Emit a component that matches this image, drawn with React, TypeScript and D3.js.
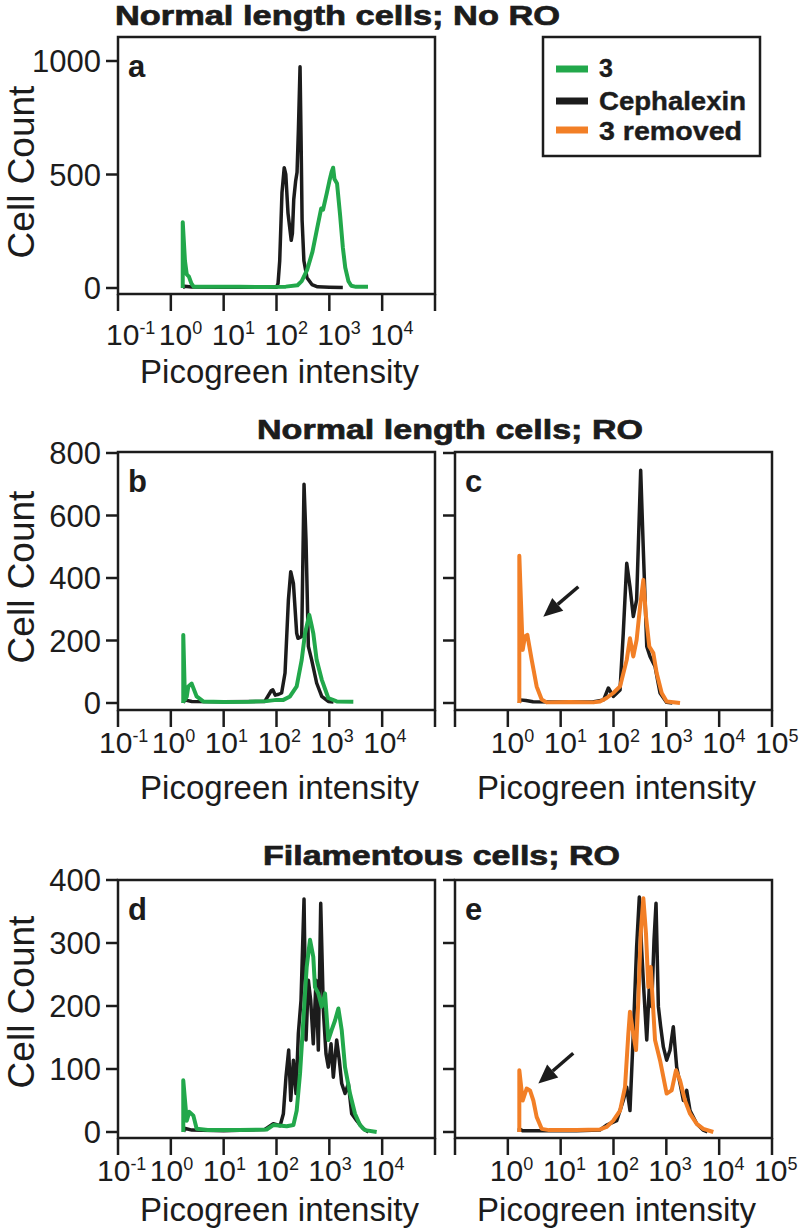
import React from 'react';
import * as d3 from 'd3';

const GREEN = '#22a84b';
const BLACK = '#1c1c1c';
const ORANGE = '#f27f26';
const FONT = '"Liberation Sans", Arial, Helvetica, sans-serif';

type Pt = [number, number]; // [Picogreen intensity, cell count]

// ---- Panel a: Normal length cells; No RO ----
const aCephalexin: Pt[] = [[1.68, 0], [1.8, 8], [2.5, 4], [10, 3], [60, 4], [100, 3], [107, 20], [115, 120], [127, 420], [140, 530], [150, 500], [165, 330], [190, 210], [200, 240], [212, 390], [230, 470], [245, 510], [260, 700], [279, 975], [292, 650], [305, 300], [330, 120], [378, 45], [468, 15], [600, 5], [1000, 3], [1800, 2]];
const aGreen: Pt[] = [[1.68, 0], [1.68, 290], [1.85, 120], [2.0, 60], [2.2, 50], [2.45, 20], [2.7, 6], [5, 5], [20, 6], [60, 4], [150, 6], [250, 12], [300, 30], [380, 80], [480, 160], [585, 260], [700, 350], [760, 345], [900, 420], [1000, 470], [1100, 510], [1180, 530], [1250, 480], [1400, 460], [1600, 320], [1800, 180], [2000, 90], [2300, 30], [2600, 10], [3200, 5], [5400, 5]];

// ---- Panel b: Normal length cells; RO ----
const bCephalexin: Pt[] = [[1.72, 0], [1.8, 10], [2.5, 5], [10, 4], [60, 5], [80, 40], [85, 42], [95, 25], [110, 28], [125, 32], [145, 96], [168, 330], [186, 420], [209, 383], [241, 223], [255, 207], [300, 213], [332, 700], [362, 521], [401, 181], [463, 138], [575, 64], [718, 21], [955, 5], [1200, 3]];
const bGreen: Pt[] = [[1.72, 0], [1.72, 218], [1.85, 10], [2.0, 20], [2.14, 53], [2.48, 62], [3.08, 21], [4.1, 5], [10, 3], [30, 4], [65, 6], [100, 10], [135, 10], [180, 21], [241, 53], [300, 138], [347, 223], [417, 282], [460, 250], [497, 223], [575, 138], [718, 75], [955, 16], [1380, 5], [2845, 4]];

// ---- Panel c: Normal length cells; RO (3 removed) ----
const cCephalexin: Pt[] = [[1.65, 0], [1.7, 10], [2.2, 8], [3, 4], [10, 3], [40, 3], [65, 10], [80, 48], [99, 21], [133, 42], [153, 223], [178, 447], [205, 372], [237, 277], [274, 330], [327, 745], [367, 489], [426, 181], [491, 149], [611, 117], [759, 32], [1014, 2], [1300, 0]];
const cRemoved: Pt[] = [[1.65, 0], [1.65, 471], [1.91, 170], [2.11, 213], [2.34, 218], [2.83, 138], [3.51, 53], [4.37, 11], [5.43, 2], [15, 3], [41.5, 2], [55.6, 5], [74, 16], [99, 32], [133, 53], [178, 138], [205, 207], [237, 149], [274, 202], [318, 308], [367, 394], [412, 277], [476, 181], [567, 160], [656, 96], [817, 32], [1014, 5], [1815, 0]];

// ---- Panel d: Filamentous cells; RO ----
const dCephalexin: Pt[] = [[1.75, 0], [1.8, 6], [2.5, 3], [10, 2], [60, 4], [87, 13], [117, 10], [135, 29], [151, 87], [170, 130], [186, 50], [209, 114], [234, 61], [259, 156], [291, 209], [332, 370], [362, 146], [401, 241], [444, 209], [497, 140], [560, 241], [619, 130], [687, 363], [771, 193], [865, 124], [957, 103], [1077, 140], [1191, 87], [1377, 146], [1545, 114], [1714, 77], [1982, 61], [2291, 77], [2649, 29], [3296, 18], [4403, 5], [5500, 0]];
const dGreen: Pt[] = [[1.72, 0], [1.72, 82], [2.0, 18], [2.24, 32], [2.67, 26], [3.08, 5], [5, 3], [20, 3], [65, 4], [87, 11], [156, 9], [209, 11], [241, 34], [279, 93], [322, 177], [373, 262], [431, 305], [497, 278], [535, 230], [619, 220], [718, 199], [829, 220], [957, 146], [1109, 162], [1282, 177], [1483, 196], [1714, 162], [1982, 103], [2461, 61], [3062, 29], [3811, 11], [4732, 3], [7870, 0]];

// ---- Panel e: Filamentous cells; RO (3 removed) ----
const eCephalexin: Pt[] = [[1.65, 0], [1.65, 5], [1.9, 2], [5, 2], [20, 2], [55, 3], [74, 11], [115, 18], [153, 50], [178, 71], [205, 34], [237, 156], [274, 294], [308, 373], [341, 289], [378, 220], [426, 146], [476, 230], [528, 199], [585, 305], [638, 363], [707, 199], [782, 167], [878, 135], [1014, 114], [1175, 130], [1356, 167], [1570, 103], [1815, 77], [2100, 50], [2432, 66], [2807, 34], [3757, 13], [5010, 3], [6000, 0]];
const eRemoved: Pt[] = [[1.65, 0], [1.65, 98], [1.91, 50], [2.27, 69], [2.63, 66], [3.04, 50], [3.51, 24], [4.37, 5], [6, 3], [20, 3], [55.6, 4], [74, 8], [99, 18], [133, 34], [165, 71], [191, 156], [205, 191], [237, 156], [267, 130], [295, 209], [327, 315], [367, 371], [412, 315], [456, 230], [506, 262], [552, 209], [611, 146], [759, 114], [1014, 61], [1262, 66], [1525, 98], [1815, 82], [2258, 50], [2807, 29], [3757, 13], [5010, 5], [7745, 0]];

// arrows (annotation) [from, to] in data units
const cArrow: [Pt, Pt] = [[21.6, 372], [4.69, 276]];
const eArrow: [Pt, Pt] = [[17.3, 125], [3.78, 77]];

// ticks
const xTickValues = [0.1, 1, 10, 100, 1000, 10000, 100000];
const leftExponents = ['-1', '0', '1', '2', '3', '4'];
const rightExponents = ['0', '1', '2', '3', '4', '5'];
const yTicksA = [0, 500, 1000];
const yTicksB = [0, 200, 400, 600, 800];
const yTicksD = [0, 100, 200, 300, 400];

// legend
const legendLabels = ['3', 'Cephalexin', '3 removed'];
const legendColors = [GREEN, BLACK, ORANGE];

const titles = ['Normal length cells; No RO', 'Normal length cells; RO', 'Filamentous cells; RO'];

interface Series { data: Pt[]; color: string; width: number }
interface PanelCfg {
  letter: string;
  left: number;
  top: number;
  bottom: number;
  y0: number;
  yTopPx: number;
  yMax: number;
  yTicks: number[];
  yLabels: boolean;
  exps: string[];
  expStart: number;
  labelShift: number;
  tickLabelBase: number;
  xLabelBase: number;
  cellCountY: number;
  series: Series[];
  arrow?: [Pt, Pt];
}

const W = 317;

const panels: PanelCfg[] = [
  { letter: 'a', left: 118, top: 37, bottom: 294, y0: 288, yTopPx: 61, yMax: 1000, yTicks: yTicksA, yLabels: true, exps: leftExponents, expStart: 0, labelShift: 12, tickLabelBase: 345, xLabelBase: 383, cellCountY: 172,
    series: [{ data: aCephalexin, color: BLACK, width: 3.5 }, { data: aGreen, color: GREEN, width: 4 }] },
  { letter: 'b', left: 118, top: 452, bottom: 710, y0: 703, yTopPx: 453, yMax: 800, yTicks: yTicksB, yLabels: true, exps: leftExponents, expStart: 0, labelShift: 19, tickLabelBase: 753, xLabelBase: 799, cellCountY: 577,
    series: [{ data: bCephalexin, color: BLACK, width: 3.5 }, { data: bGreen, color: GREEN, width: 4 }] },
  { letter: 'c', left: 455, top: 452, bottom: 710, y0: 703, yTopPx: 453, yMax: 800, yTicks: yTicksB, yLabels: false, exps: rightExponents, expStart: 1, labelShift: 17, tickLabelBase: 753, xLabelBase: 799, cellCountY: 0,
    series: [{ data: cCephalexin, color: BLACK, width: 3.5 }, { data: cRemoved, color: ORANGE, width: 4 }], arrow: cArrow },
  { letter: 'd', left: 118, top: 880, bottom: 1138, y0: 1132, yTopPx: 880, yMax: 400, yTicks: yTicksD, yLabels: true, exps: leftExponents, expStart: 0, labelShift: 21, tickLabelBase: 1181, xLabelBase: 1221, cellCountY: 1002,
    series: [{ data: dCephalexin, color: BLACK, width: 3.5 }, { data: dGreen, color: GREEN, width: 4 }] },
  { letter: 'e', left: 455, top: 880, bottom: 1138, y0: 1132, yTopPx: 880, yMax: 400, yTicks: yTicksD, yLabels: false, exps: rightExponents, expStart: 1, labelShift: 18, tickLabelBase: 1181, xLabelBase: 1221, cellCountY: 0,
    series: [{ data: eCephalexin, color: BLACK, width: 3.5 }, { data: eRemoved, color: ORANGE, width: 4 }], arrow: eArrow },
];

function Panel({ p }: { p: PanelCfg }) {
  const x = d3.scaleLog().domain([0.1, 100000]).range([p.left, p.left + W]);
  const y = d3.scaleLinear().domain([0, p.yMax]).range([p.y0, p.yTopPx]);
  const line = d3.line<Pt>().x((d) => x(d[0])).y((d) => y(d[1]));
  const sw = 2.5;
  let arrowEl = null;
  if (p.arrow) {
    const [f, t] = p.arrow;
    const x1 = x(f[0]), y1 = y(f[1]), x2 = x(t[0]), y2 = y(t[1]);
    const ang = Math.atan2(y2 - y1, x2 - x1);
    const hl = 19, hw = 8.5;
    const bx = x2 - hl * Math.cos(ang), by = y2 - hl * Math.sin(ang);
    const px = -Math.sin(ang) * hw, py = Math.cos(ang) * hw;
    arrowEl = (
      <g>
        <line x1={x1} y1={y1} x2={bx} y2={by} stroke={BLACK} strokeWidth={3.5} />
        <path d={`M${x2},${y2}L${bx + px},${by + py}L${bx - px},${by - py}Z`} fill={BLACK} />
      </g>
    );
  }
  return (
    <g>
      {p.series.map((s, i) => (
        <path key={i} d={line(s.data) || ''} fill="none" stroke={s.color} strokeWidth={s.width} strokeLinejoin="round" />
      ))}
      {arrowEl}
      <rect x={p.left} y={p.top} width={W} height={p.bottom - p.top} fill="none" stroke={BLACK} strokeWidth={sw} />
      {xTickValues.map((v, i) => (
        <line key={i} x1={x(v)} x2={x(v)} y1={p.bottom} y2={p.bottom + 17} stroke={BLACK} strokeWidth={sw} />
      ))}
      {p.yTicks.map((v, i) => (
        <line key={i} x1={p.left - 12} x2={p.left} y1={y(v)} y2={y(v)} stroke={BLACK} strokeWidth={sw} />
      ))}
      {p.yLabels && p.yTicks.map((v, i) => (
        <text key={i} x={p.left - 17} y={y(v) + 11} textAnchor="end" fontSize={31} fontFamily={FONT} fill={BLACK}>{v}</text>
      ))}
      {p.exps.map((e, i) => (
        <text key={i} x={x(xTickValues[i + p.expStart]) - p.labelShift} y={p.tickLabelBase} fontSize={30} fontFamily={FONT} fill={BLACK}>
          <tspan>10</tspan>
          <tspan dy={-11} fontSize={18}>{e}</tspan>
        </text>
      ))}
      <text x={p.left + W / 2 + 3} y={p.xLabelBase} textAnchor="middle" fontSize={33} fontFamily={FONT} fill={BLACK}>Picogreen intensity</text>
      {p.yLabels && (
        <text transform={`translate(34,${p.cellCountY}) rotate(-90)`} textAnchor="middle" fontSize={37} fontFamily={FONT} fill={BLACK}>Cell Count</text>
      )}
      <text x={p.left + 10} y={p.top + 40} fontSize={31} fontWeight="bold" fontFamily={FONT} fill={BLACK}>{p.letter}</text>
    </g>
  );
}

export default function App() {
  const legendRows = [69, 101, 130];
  const legendBase = [77, 110, 140];
  const legendLen = [0, 147, 143];
  const titleProps = { fontSize: 27, fontWeight: 'bold', fontFamily: FONT, fill: BLACK, stroke: BLACK, strokeWidth: 0.7, lengthAdjust: 'spacingAndGlyphs' } as const;
  return (
    <svg width={800} height={1230} style={{ position: 'absolute', left: 0, top: 0, background: '#fff' }}>
      <rect x={0} y={0} width={800} height={1230} fill="#fff" />
      {panels.map((p) => <Panel key={p.letter} p={p} />)}
      <text x={115} y={25} textLength={445} {...titleProps}>{titles[0]}</text>
      <text x={257} y={439} textLength={386} {...titleProps}>{titles[1]}</text>
      <text x={263} y={865} textLength={357} {...titleProps}>{titles[2]}</text>
      <rect x={543} y={37} width={217} height={119} fill="none" stroke={BLACK} strokeWidth={2.5} />
      {legendLabels.map((l, i) => (
        <g key={l}>
          <line x1={556} x2={588} y1={legendRows[i]} y2={legendRows[i]} stroke={legendColors[i]} strokeWidth={7} />
          <text x={599} y={legendBase[i]} fontSize={25} fontWeight="bold" fontFamily={FONT} fill={BLACK} stroke={BLACK} strokeWidth={0.4}
            {...(legendLen[i] ? { textLength: legendLen[i], lengthAdjust: 'spacingAndGlyphs' } : {})}>{l}</text>
        </g>
      ))}
    </svg>
  );
}
